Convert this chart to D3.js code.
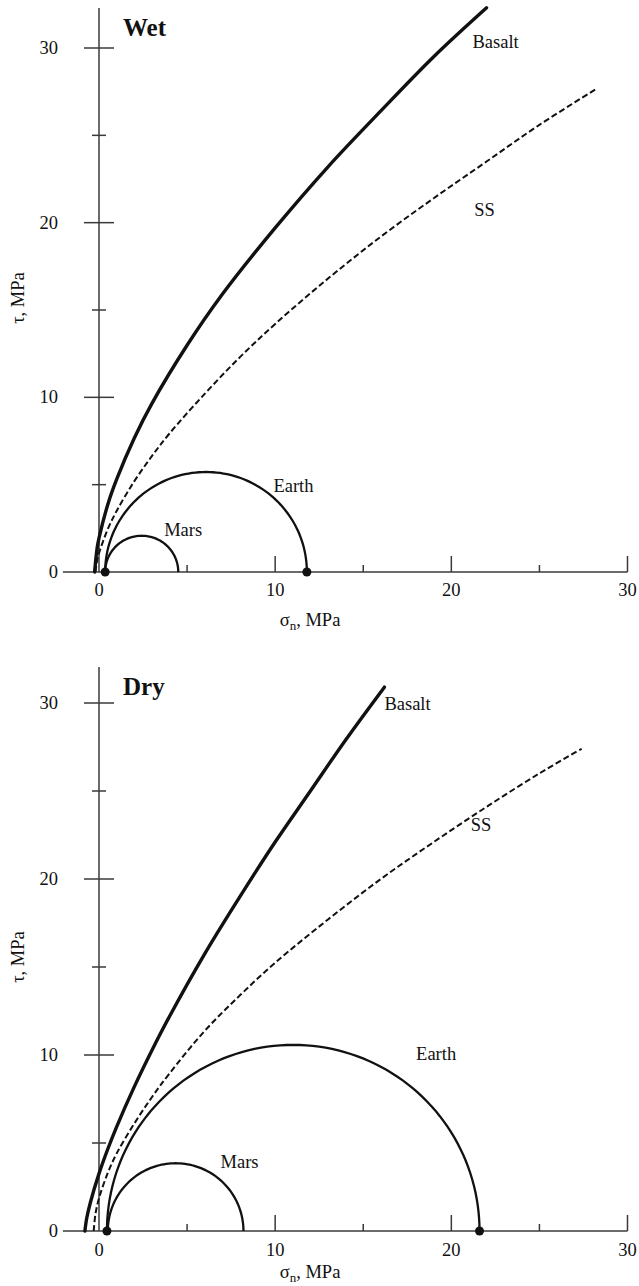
<!DOCTYPE html>
<html><head><meta charset="utf-8">
<script src="https://cdn.jsdelivr.net/npm/d3@7"></script>
<style>body{margin:0;background:#fff}svg{display:block}text{font-family:"Liberation Serif","Times New Roman",serif;fill:#111}</style>
</head><body><svg id="c" width="639" height="1286"></svg>
<script>
// ---- data ----
const panels = ["Wet", "Dry"];
const xTicks = [0, 10, 20, 30];
const yTicks = [0, 10, 20, 30];
const minorTicks = [5, 15, 25];
// failure envelopes (sigma_n, tau) in MPa
const wetBasaltS = [-0.25, -0.1, 0, 0.5, 1, 2, 3, 5, 7, 10, 13, 16, 19, 22];
const wetBasaltT = [0, 1.41, 1.94, 3.87, 5.3, 7.66, 9.64, 12.98, 15.9, 19.7, 23.2, 26.4, 29.5, 32.3];
const wetSSS = [-0.2, -0.1, 0, 0.5, 1, 2, 3, 4, 6, 8, 10, 13, 16, 19, 22, 25, 28.3];
const wetSST = [0, 0.69, 1.08, 2.46, 3.49, 5.19, 6.63, 7.93, 10.2, 12.3, 14.2, 16.8, 19.2, 21.4, 23.5, 25.6, 27.7];
const dryBasaltS = [-0.8, -0.7, -0.5, 0, 0.5, 1, 2, 3, 4, 6, 8, 10, 12, 14, 16.2];
const dryBasaltT = [0, 0.71, 1.58, 3.26, 4.66, 5.92, 8.19, 10.26, 12.19, 15.75, 19.0, 22.1, 25.0, 27.9, 30.9];
const drySSS = [-0.3, -0.2, 0, 0.5, 1, 2, 3, 4, 6, 8, 10, 13, 16, 19, 22, 25, 27.4];
const drySST = [0, 0.97, 1.86, 3.3, 4.4, 6.1, 7.6, 8.95, 11.37, 13.39, 15.24, 17.7, 20.0, 22.1, 24.1, 26.0, 27.4];
// Mohr circles: [sigma3, sigma1]
const wetMars = [0.35, 4.5];
const wetEarth = [0.35, 11.8];
const dryMars = [0.5, 8.2];
const dryEarth = [0.45, 21.6];
// labels: [text, sigma, tau] (left/baseline)
const wetLabels = [["Basalt", 21.2, 30.0], ["SS", 21.3, 20.4], ["Earth", 9.9, 4.6], ["Mars", 3.7, 2.06]];
const dryLabels = [["Basalt", 16.2, 29.6], ["SS", 21.1, 22.7], ["Earth", 18.0, 9.7], ["Mars", 6.9, 3.6]];

const svg = d3.select("#c");
const x = d3.scaleLinear().domain([0, 30]).range([99, 627.5]);
const cfg = [
  {name: panels[0], y0: 572, y30: 48, top: 8, tl: 24, tt: 54, basalt: [wetBasaltS, wetBasaltT], ss: [wetSSS, wetSST], circles: [wetMars, wetEarth], labels: wetLabels},
  {name: panels[1], y0: 1231, y30: 703, top: 667, tl: 25, tt: 47, basalt: [dryBasaltS, dryBasaltT], ss: [drySSS, drySST], circles: [dryMars, dryEarth], labels: dryLabels}
];
const axc = "#3a3a3a";
const fs = 18.5;
cfg.forEach(p => {
  const y = d3.scaleLinear().domain([0, 30]).range([p.y0, p.y30]);
  const g = svg.append("g");
  g.append("line").attr("x1", x(-2.05)).attr("x2", x(30)).attr("y1", y(0)).attr("y2", y(0)).attr("stroke", axc).attr("stroke-width", 1.5);
  g.append("line").attr("x1", x(0)).attr("x2", x(0)).attr("y1", p.top).attr("y2", y(0)).attr("stroke", axc).attr("stroke-width", 1.5);
  xTicks.filter(d => d > 0).forEach(d => g.append("line").attr("x1", x(d)).attr("x2", x(d)).attr("y1", y(0)).attr("y2", y(0) - 16).attr("stroke", axc).attr("stroke-width", 1.5));
  minorTicks.forEach(d => g.append("line").attr("x1", x(d)).attr("x2", x(d)).attr("y1", y(0)).attr("y2", y(0) - 7).attr("stroke", axc).attr("stroke-width", 1.5));
  yTicks.filter(d => d > 0).forEach(d => g.append("line").attr("x1", x(0) - 15).attr("x2", x(0) + 15).attr("y1", y(d)).attr("y2", y(d)).attr("stroke", axc).attr("stroke-width", 1.5));
  minorTicks.forEach(d => g.append("line").attr("x1", x(0) - 7).attr("x2", x(0) + 7).attr("y1", y(d)).attr("y2", y(d)).attr("stroke", axc).attr("stroke-width", 1.5));
  xTicks.forEach(d => g.append("text").attr("x", x(d)).attr("y", y(0) + p.tl).attr("text-anchor", "middle").attr("font-size", fs).text(d));
  yTicks.forEach(d => g.append("text").attr("x", 58).attr("y", y(d) + 6).attr("text-anchor", "end").attr("font-size", fs).text(d));
  const xt = g.append("text").attr("x", 310).attr("y", y(0) + p.tt).attr("text-anchor", "middle").attr("font-size", fs);
  xt.append("tspan").text("σ");
  xt.append("tspan").attr("font-size", 13).attr("dy", 4).text("n");
  xt.append("tspan").attr("dy", -4).text(", MPa");
  g.append("text").attr("transform", `translate(24,${(p.top + y(0)) / 2 + 8}) rotate(-90)`).attr("text-anchor", "middle").attr("font-size", fs).text("τ, MPa");
  g.append("text").attr("x", x(0) + 24).attr("y", p.top + 28).attr("font-size", 25).attr("font-weight", "bold").text(p.name);
  const angles = d3.range(0, 181, 2);
  p.circles.forEach(c => {
    const cx = (c[0] + c[1]) / 2, r = (c[1] - c[0]) / 2;
    const line = d3.line().x(a => x(cx - r * Math.cos(a * Math.PI / 180))).y(a => y(r * Math.sin(a * Math.PI / 180)));
    g.append("path").attr("d", line(angles)).attr("fill", "none").attr("stroke", "#111").attr("stroke-width", 2.3);
  });
  const env = d3.line().x(d => x(d[0])).y(d => y(d[1])).curve(d3.curveCatmullRom.alpha(0.5));
  const bp = p.basalt[0].map((s, i) => [s, p.basalt[1][i]]);
  const sp = p.ss[0].map((s, i) => [s, p.ss[1][i]]);
  g.append("path").attr("d", env(bp)).attr("fill", "none").attr("stroke", "#111").attr("stroke-width", 3.4).attr("stroke-linecap", "round");
  g.append("path").attr("d", env(sp)).attr("fill", "none").attr("stroke", "#111").attr("stroke-width", 2).attr("stroke-dasharray", "6,3");
  [p.circles[1][0], p.circles[1][1]].forEach(s => g.append("circle").attr("cx", x(s)).attr("cy", y(0)).attr("r", 4.5).attr("fill", "#111"));
  p.labels.forEach(l => g.append("text").attr("x", x(l[1])).attr("y", y(l[2])).attr("font-size", fs).text(l[0]));
});
</script></body></html>
